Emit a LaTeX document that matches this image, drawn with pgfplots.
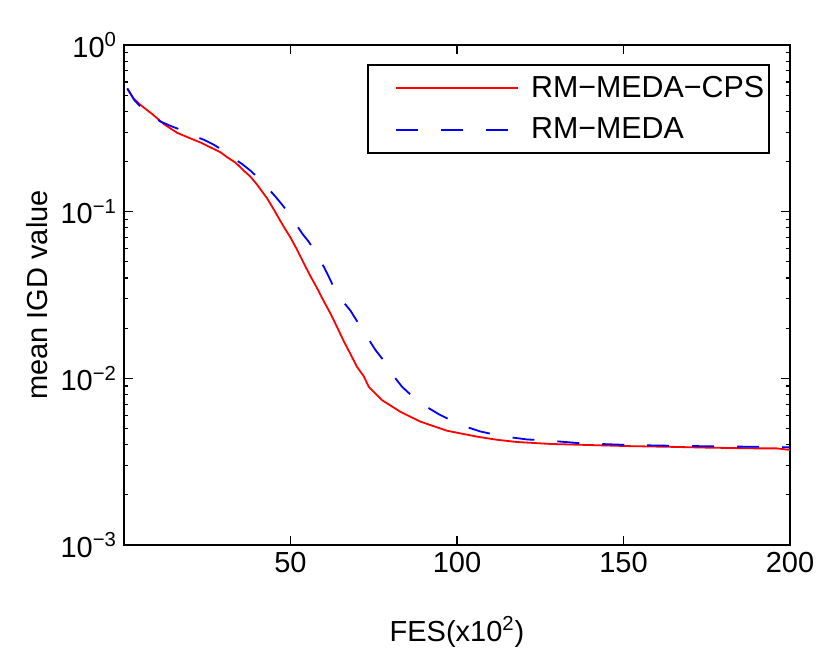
\documentclass[border=0pt]{standalone}
\usepackage{fontspec}
\setmainfont{Liberation Sans}
\usepackage{pgfplots}
\usepackage{pgfplotstable}
\pgfplotsset{compat=1.18}
\pgfplotstableread{
x y
1 0.545
3 0.475
5 0.436
8.5 0.385
12 0.335
16 0.297
20 0.275
23 0.260
26 0.243
29 0.227
31 0.212
33.5 0.197
36 0.176
38 0.162
40 0.145
43 0.120
45 0.103
48 0.081
50 0.070
52 0.059
54 0.049
56 0.041
58 0.0347
60 0.0290
62 0.0245
64 0.0203
66 0.0167
68 0.0140
70 0.0117
72 0.0103
73.5 0.0089
77.5 0.0074
83 0.0063
89 0.0055
97 0.00485
106 0.00447
112 0.00428
118 0.00415
128 0.00404
140 0.00398
152 0.00392
165 0.00388
175 0.00384
190 0.00380
196 0.00380
200 0.00372
}\red
\pgfplotstableread{
x y
1 0.55
3 0.47
5 0.425
8 0.38
11 0.347
14 0.327
17 0.310
20 0.290
24 0.270
27 0.252
29.6 0.234
32 0.215
35.5 0.193
38 0.176
40.5 0.158
43 0.140
45.5 0.123
47.5 0.110
49.5 0.098
51.5 0.085
53.5 0.074
55.5 0.066
57.5 0.057
59 0.051
61 0.0427
63.5 0.0335
66 0.0285
68 0.0255
71.5 0.0197
74 0.0165
75.5 0.0148
79.5 0.0117
81 0.0103
83.5 0.0089
88.5 0.0072
94.5 0.0061
100.5 0.0053
107 0.0048
113.5 0.0045
121 0.0043
127.5 0.00423
137 0.00408
152 0.00398
165 0.00394
180 0.00390
196 0.00388
200 0.00385
}\blue
\begin{document}
\begin{tikzpicture}
\useasboundingbox (-62pt,-52.5pt) rectangle (353pt,272.5pt);
\begin{axis}[
  scale only axis, width=333pt, height=250pt,
  ymode=log, xmin=0, xmax=200, ymin=1e-3, ymax=1,
  xtick={50,100,150,200},
  ytick={0.001,0.01,0.1,1},
  yticklabels={10\textsuperscript{−3},10\textsuperscript{−2},10\textsuperscript{−1},10\textsuperscript{0}},
  /pgf/number format/assume math mode=true,
  tick align=inside,
  major tick length=4.5pt, minor tick length=2.2pt,
  axis line style={line width=0.8pt},
  every tick/.style={line width=0.6pt, black},
  tick label style={font=\fontsize{14.5}{17}\selectfont},
  label style={font=\fontsize{14.5}{17}\selectfont},
  xlabel={FES(x10\textsuperscript{2})},
  ylabel={mean IGD value},
  xlabel style={at={(axis description cs:0.5,-0.192)}, anchor=base},
  ylabel style={at={(axis description cs:-0.1306,0.5)}, anchor=center},
  legend cell align=left,
  legend style={at={(axis description cs:0.97,0.962)}, anchor=north east,
    draw=black, line width=0.8pt, inner xsep=2pt, inner ysep=3.5pt, row sep=5pt,
    column sep=5.5pt,
    font=\fontsize{15.2}{17}\selectfont,
    nodes={inner xsep=0.5pt, inner ysep=2pt}},
  legend image code/.code={\path (-11.5pt,0pt) (61pt,0pt); \draw[#1] (0pt,0pt) -- (61pt,0pt);},
]
\addplot[red, line width=0.9pt, no marks] table[x=x,y=y] {\red};
\addlegendentry{RM−MEDA−CPS}
\addplot[blue, line width=0.9pt, no marks, dash pattern=on 11pt off 11.5pt] table[x=x,y=y] {\blue};
\addlegendentry{RM−MEDA}
\end{axis}
\end{tikzpicture}
\end{document}
